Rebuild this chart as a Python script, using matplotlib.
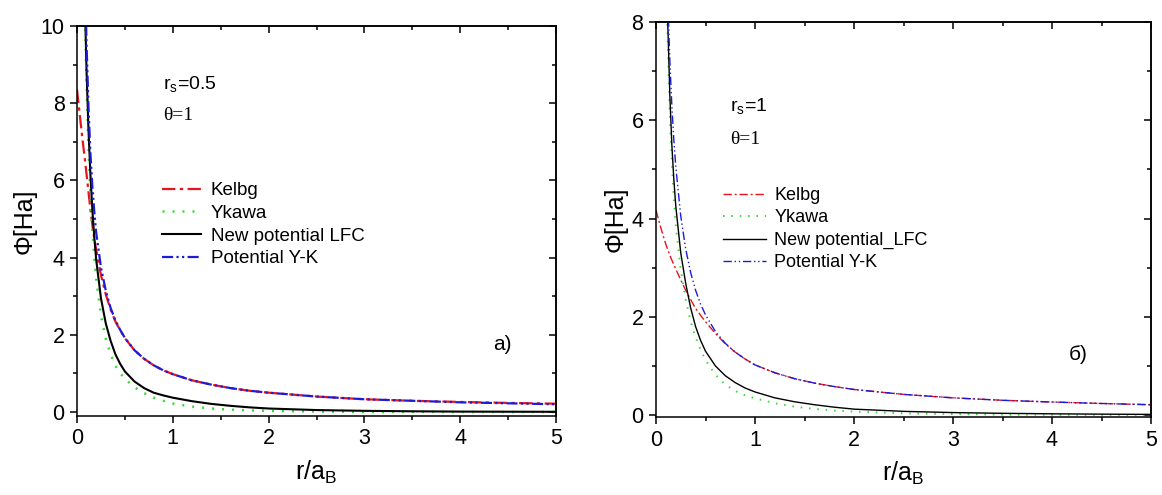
import matplotlib
matplotlib.use('Agg')
import matplotlib.pyplot as plt
from matplotlib.ticker import MultipleLocator

plt.rcParams['font.family'] = ['Liberation Sans', 'DejaVu Sans']
plt.rcParams['mathtext.fontset'] = 'custom'
plt.rcParams['mathtext.rm'] = 'Liberation Sans'

# ---- panel a) r_s = 0.5, theta = 1 ----
r_a = [0.08, 0.09, 0.1, 0.12, 0.14, 0.16, 0.18, 0.2, 0.25, 0.3, 0.35, 0.4, 0.45, 0.5, 0.6, 0.7, 0.8,
       0.9, 1.0, 1.2, 1.4, 1.6, 1.8, 2.0, 2.5, 3.0, 3.5, 4.0, 4.5, 5.0]
yk_a = [12.0, 10.6, 9.5, 7.9, 6.7, 5.85, 5.2, 4.65, 3.75, 3.15, 2.7, 2.38, 2.13, 1.92, 1.6, 1.38, 1.21,
        1.08, 0.98, 0.82, 0.71, 0.62, 0.55, 0.5, 0.4, 0.33, 0.29, 0.25, 0.225, 0.2]
lfc_a = [11.0, 9.8, 8.8, 7.3, 6.15, 5.25, 4.55, 3.95, 2.95, 2.3, 1.85, 1.5, 1.25, 1.05, 0.79, 0.62, 0.5,
         0.43, 0.37, 0.28, 0.21, 0.16, 0.12, 0.09, 0.05, 0.03, 0.018, 0.01, 0.007, 0.005]
yuk_a = [11.0, 9.6, 8.5, 6.85, 5.65, 4.75, 4.0, 3.45, 2.5, 1.9, 1.5, 1.2, 1.01, 0.86, 0.64, 0.49, 0.37,
         0.29, 0.22, 0.14, 0.09, 0.06, 0.04, 0.03, 0.012, 0.005, 0.002, 0.001, 0.0, 0.0]
rk_a = [0.0, 0.02, 0.04, 0.06, 0.08, 0.1, 0.12, 0.14, 0.16, 0.18, 0.2, 0.25, 0.3, 0.35, 0.4, 0.45, 0.5,
        0.6, 0.7, 0.8, 0.9, 1.0, 1.2, 1.4, 1.6, 1.8, 2.0, 2.5, 3.0, 3.5, 4.0, 4.5, 5.0]
kel_a = [8.35, 7.9, 7.45, 7.0, 6.6, 6.15, 5.7, 5.25, 4.85, 4.5, 4.2, 3.55, 3.05, 2.66, 2.35, 2.12, 1.91,
         1.6, 1.38, 1.21, 1.08, 0.98, 0.82, 0.71, 0.62, 0.55, 0.5, 0.4, 0.33, 0.29, 0.26, 0.235, 0.215]

# ---- panel б) r_s = 1, theta = 1 ----
r_b = [0.1, 0.12, 0.14, 0.16, 0.18, 0.2, 0.25, 0.3, 0.35, 0.4, 0.45, 0.5, 0.6, 0.7, 0.8, 0.9, 1.0,
       1.2, 1.4, 1.6, 1.8, 2.0, 2.5, 3.0, 3.5, 4.0, 4.5, 5.0]
yk_b = [10.0, 8.4, 7.2, 6.3, 5.6, 5.05, 4.05, 3.38, 2.9, 2.54, 2.26, 2.04, 1.7, 1.46, 1.28, 1.14, 1.02,
        0.86, 0.74, 0.65, 0.58, 0.52, 0.42, 0.35, 0.3, 0.265, 0.235, 0.21]
lfc_b = [9.8, 7.9, 6.5, 5.5, 4.8, 4.25, 3.3, 2.68, 2.18, 1.8, 1.52, 1.3, 1.0, 0.8, 0.66, 0.55, 0.47,
         0.35, 0.27, 0.21, 0.16, 0.12, 0.075, 0.05, 0.035, 0.025, 0.018, 0.013]
yuk_b = [9.3, 7.5, 6.1, 5.15, 4.4, 3.85, 2.95, 2.35, 1.9, 1.58, 1.33, 1.12, 0.82, 0.62, 0.49, 0.4, 0.34,
         0.24, 0.17, 0.125, 0.09, 0.07, 0.035, 0.02, 0.01, 0.006, 0.003, 0.002]
rk_b = [0.0, 0.05, 0.1, 0.15, 0.2, 0.25, 0.3, 0.35, 0.4, 0.45, 0.5, 0.6, 0.7, 0.8, 0.9, 1.0,
        1.2, 1.4, 1.6, 1.8, 2.0, 2.5, 3.0, 3.5, 4.0, 4.5, 5.0]
kel_b = [4.17, 3.8, 3.47, 3.2, 2.97, 2.75, 2.54, 2.35, 2.17, 2.03, 1.9, 1.66, 1.45, 1.28, 1.14, 1.02,
         0.86, 0.74, 0.65, 0.58, 0.52, 0.42, 0.35, 0.3, 0.265, 0.235, 0.21]

RED = '#e8141c'
GREEN = '#33dd33'
BLUE = '#1c1cd8'

W, H = 1162, 495
fig = plt.figure(figsize=(W / 100, H / 100), dpi=100)


def px_axes(x0, y0, x1, y1):
    return fig.add_axes([x0 / W, 1 - y1 / H, (x1 - x0) / W, (y1 - y0) / H])


def style_axes(ax, ymax, ybot, ymajor):
    ax.set_xlim(0, 5)
    ax.set_ylim(ybot, ymax)
    ax.xaxis.set_major_locator(MultipleLocator(1))
    ax.xaxis.set_minor_locator(MultipleLocator(0.5))
    ax.yaxis.set_major_locator(MultipleLocator(ymajor))
    ax.yaxis.set_minor_locator(MultipleLocator(ymajor / 2))
    for s in ax.spines.values():
        s.set_linewidth(1.1)
    ax.tick_params(which='major', direction='out', length=5, width=1.1, labelsize=15.5, pad=4)
    ax.tick_params(which='minor', direction='out', length=3, width=1.1)
    # inward ticks on top and right
    top = ax.secondary_xaxis('top')
    top.xaxis.set_major_locator(MultipleLocator(1))
    top.xaxis.set_minor_locator(MultipleLocator(0.5))
    top.tick_params(which='major', direction='in', length=5, width=1.1, labeltop=False)
    top.tick_params(which='minor', direction='in', length=3, width=1.1)
    right = ax.secondary_yaxis('right')
    right.yaxis.set_major_locator(MultipleLocator(ymajor))
    right.yaxis.set_minor_locator(MultipleLocator(ymajor / 2))
    right.tick_params(which='major', direction='in', length=5, width=1.1, labelright=False)
    right.tick_params(which='minor', direction='in', length=3, width=1.1)
    for sec in (top, right):
        for s in sec.spines.values():
            s.set_linewidth(1.1)
    ax.set_xlabel(r'r/a$_\mathregular{B}$', fontsize=18, labelpad=7)
    ax.set_ylabel('Φ[Ha]', fontsize=18, labelpad=3)


# panel a)
ax1 = px_axes(77, 26, 556, 416)
ax1.plot(rk_a, kel_a, color=RED, lw=1.6, dashes=(6, 2, 1.5, 2), label='Kelbg')
ax1.plot(r_a, yuk_a, color=GREEN, lw=1.8, dashes=(0.8, 3.2), label='Ykawa')
ax1.plot(r_a, lfc_a, color='black', lw=1.5, label='New potential LFC')
ax1.plot(r_a, yk_a, color=BLUE, lw=1.6, dashes=(5, 1.5, 1, 1.5, 1, 1.5), label='Potential Y-K')
style_axes(ax1, 10, -0.104, 2)
ax1.legend(loc='upper left', bbox_to_anchor=(162 / W, 1 - 182 / H), bbox_transform=fig.transFigure,
           frameon=False, fontsize=13.5, handlelength=2.1, handletextpad=0.5, labelspacing=0.3,
           borderpad=0, borderaxespad=0)
ax1.text(163 / W, 1 - 85 / H, r'r$_\mathregular{s}$=0.5', transform=fig.transFigure,
         fontsize=14, va='center', ha='left')
ax1.text(163 / W, 1 - 116 / H, 'θ=1', transform=fig.transFigure, fontsize=14,
         va='center', ha='left', family=['Liberation Serif', 'DejaVu Serif'])
ax1.text(502 / W, 1 - 344 / H, 'a)', transform=fig.transFigure, fontsize=15,
         va='center', ha='center')

# panel б)
ax2 = px_axes(656, 22, 1151, 417)
ax2.plot(rk_b, kel_b, color=RED, lw=1.0, dashes=(6, 2, 1.5, 2), label='Kelbg')
ax2.plot(r_b, yuk_b, color=GREEN, lw=1.4, dashes=(0.8, 3.5), label='Ykawa')
ax2.plot(r_b, lfc_b, color='black', lw=1.0, label='New potential_LFC')
ax2.plot(r_b, yk_b, color=BLUE, lw=1.0, dashes=(6, 2, 1, 2, 1, 2), label='Potential Y-K')
style_axes(ax2, 8, -0.04, 2)
ax2.legend(loc='upper left', bbox_to_anchor=(723 / W, 1 - 187 / H), bbox_transform=fig.transFigure,
           frameon=False, fontsize=13, handlelength=2.4, handletextpad=0.45, labelspacing=0.3,
           borderpad=0, borderaxespad=0)
ax2.text(730 / W, 1 - 107 / H, r'r$_\mathregular{s}$=1', transform=fig.transFigure,
         fontsize=14, va='center', ha='left')
ax2.text(730 / W, 1 - 140 / H, 'θ=1', transform=fig.transFigure, fontsize=14,
         va='center', ha='left', family=['Liberation Serif', 'DejaVu Serif'])
ax2.text(1078 / W, 1 - 355 / H, 'б)', transform=fig.transFigure, fontsize=15,
         va='center', ha='center')

fig.savefig('out.png', dpi=100)
